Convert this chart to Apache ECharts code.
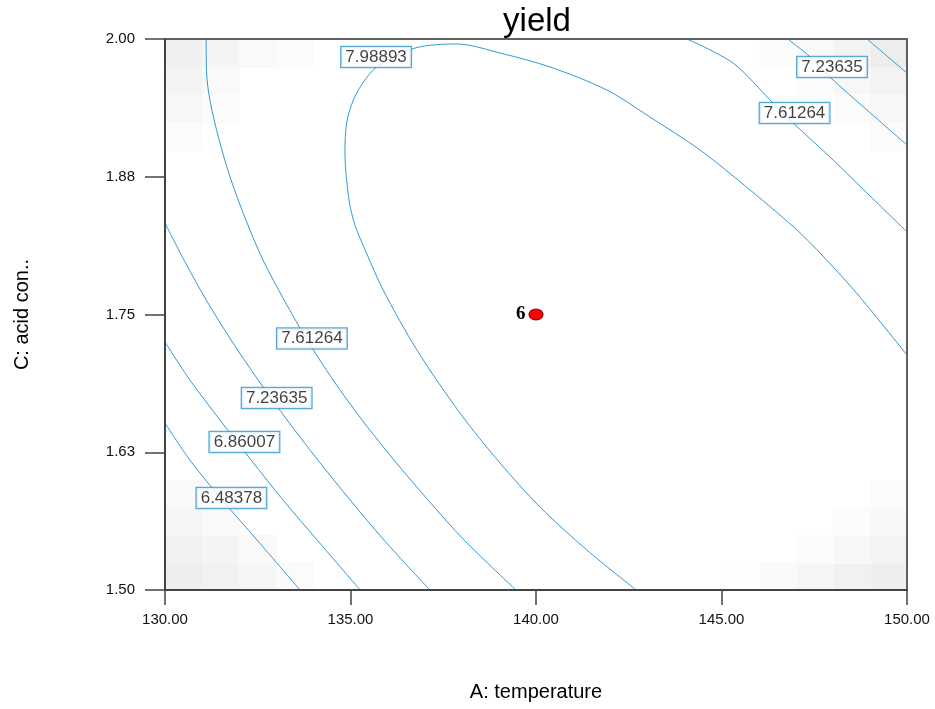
<!DOCTYPE html>
<html>
<head>
<meta charset="utf-8">
<script src="https://cdn.jsdelivr.net/npm/echarts@6/dist/echarts.min.js"></script>
<style>
html,body{margin:0;padding:0;background:#fff;}
#chart{width:935px;height:709px;}
</style>
</head>
<body>
<div id="chart"></div>
<script>
// ---- data (x: A temperature, y: C acid conc.) ----
var xTicks = [130, 135, 140, 145, 150];
var yTicks = [1.50, 1.625, 1.75, 1.875, 2.00];

// contour 6.48378 (lower left)
var c648L = [[130.00,1.6515],[130.67,1.6180],[131.54,1.5817],[132.48,1.5454],[133.64,1.5000]];
// contour 6.86007 (lower left)
var c686L = [[130.00,1.7250],[130.67,1.6906],[131.48,1.6543],[132.32,1.6180],[133.18,1.5817],[134.10,1.5454],[135.26,1.5000]];
// contour 7.23635 (left)
var c724L = [[130.00,1.8330],[130.51,1.7995],[131.11,1.7632],[131.78,1.7269],[132.51,1.6906],[133.29,1.6543],[134.12,1.6180],[134.99,1.5817],[135.90,1.5454],[137.14,1.5000]];
// contour 7.61264 (left)
var c761L = [[131.11,2.0000],[131.12,1.9701],[131.21,1.9446],[131.46,1.9083],[131.78,1.8721],[132.18,1.8358],[132.64,1.7995],[133.21,1.7632],[133.83,1.7269],[134.53,1.6906],[135.31,1.6543],[136.17,1.6180],[137.09,1.5817],[138.06,1.5454],[139.46,1.5000]];
// contour 7.98893 (inner arc)
var c799 = [[142.70,1.5000],[141.37,1.5363],[140.11,1.5753],[139.03,1.6152],[137.95,1.6606],[136.79,1.7178],[135.88,1.7722],[135.42,1.8067],[135.12,1.8312],[134.96,1.8539],[134.85,1.8966],[134.91,1.9265],[135.18,1.9519],[135.71,1.9746],[136.74,1.9918],[137.87,1.9955],[139.03,1.9873],[140.38,1.9746],[141.91,1.9537],[143.07,1.9292],[144.42,1.8993],[145.77,1.8630],[147.12,1.8240],[148.01,1.7931],[148.73,1.7659],[150.00,1.7132]];
// contour 7.61264 (upper right)
var c761R = [[144.07,2.0000],[145.31,1.9782],[146.36,1.9428],[146.93,1.9238],[148.01,1.8902],[148.92,1.8603],[150.00,1.8249]];
// contour 7.23635 (upper right)
var c724R = [[146.79,2.0000],[147.39,1.9837],[147.92,1.9655],[148.92,1.9356],[150.00,1.9038]];
// contour 6.86007 (upper right corner)
var c686R = [[148.92,2.0000],[150.00,1.9691]];

// contour labels [x, y, text]
var contourLabels = [
  [131.79,1.5835,'6.48378'],
  [132.14,1.6343,'6.86007'],
  [133.01,1.6742,'7.23635'],
  [133.96,1.7282,'7.61264'],
  [135.69,1.9837,'7.98893'],
  [146.97,1.9328,'7.61264'],
  [147.98,1.9746,'7.23635']
];

// design point
var designPoints = [[140.0,1.75,'6']];

// background shading cells [xLeft, yBottom, grey]
var shadeCells = [
  [130,1.500,'#eeeeee'],[131,1.500,'#f1f1f1'],[132,1.500,'#f6f6f6'],[133,1.500,'#fbfbfb'],
  [130,1.525,'#f1f1f1'],[131,1.525,'#f4f4f4'],[132,1.525,'#f9f9f9'],
  [130,1.550,'#f5f5f5'],[131,1.550,'#f9f9f9'],
  [130,1.575,'#fafafa'],[131,1.575,'#fdfdfd'],
  [130,1.975,'#f0f0f0'],[131,1.975,'#f4f4f4'],[132,1.975,'#f9f9f9'],[133,1.975,'#fcfcfc'],
  [130,1.950,'#f4f4f4'],[131,1.950,'#f9f9f9'],
  [130,1.925,'#f7f7f7'],[131,1.925,'#fcfcfc'],
  [130,1.900,'#fbfbfb'],
  [149,1.975,'#ededed'],[148,1.975,'#f3f3f3'],[147,1.975,'#f9f9f9'],[146,1.975,'#fcfcfc'],
  [149,1.950,'#f3f3f3'],[148,1.950,'#f7f7f7'],[147,1.950,'#fcfcfc'],
  [149,1.925,'#f7f7f7'],[148,1.925,'#fbfbfb'],
  [149,1.900,'#fbfbfb'],
  [149,1.500,'#eeeeee'],[148,1.500,'#f1f1f1'],[147,1.500,'#f6f6f6'],[146,1.500,'#fafafa'],[145,1.500,'#fdfdfd'],
  [149,1.525,'#f3f3f3'],[148,1.525,'#f7f7f7'],[147,1.525,'#fbfbfb'],
  [149,1.550,'#f8f8f8'],[148,1.550,'#fcfcfc'],
  [149,1.575,'#fcfcfc']
];
var cellW = 1, cellH = 0.025;

var lineColor = '#3399d0';
var baseFont = '"Liberation Sans", Arial, sans-serif';

function contour(data){
  return {
    type:'line', data:data, showSymbol:false, symbol:'none', smooth:0.3,
    lineStyle:{color:lineColor, width:1}, z:3, silent:true, animation:false
  };
}

var chart = echarts.init(document.getElementById('chart'), null, {renderer:'canvas'});
var option = {
  animation:false,
  backgroundColor:'#fff',
  title:{
    text:'yield', left:532, top:0, textAlign:'center',
    textStyle:{fontFamily:baseFont, fontSize:33, fontWeight:'normal', color:'#000'}
  },
  grid:{left:165, right:28, top:39, bottom:119, show:true, z:10, borderColor:'#606060', borderWidth:2, backgroundColor:'transparent'},
  xAxis:{
    type:'value', min:xTicks[0], max:xTicks[xTicks.length-1], interval:5, z:11,
    name:'A: temperature', nameLocation:'middle', nameGap:92,
    nameTextStyle:{fontFamily:baseFont, fontSize:20, color:'#000'},
    axisLine:{show:true, onZero:false, lineStyle:{color:'#444', width:2}},
    axisTick:{show:true, length:15, lineStyle:{color:'#444', width:1.5}},
    axisLabel:{margin:22, fontFamily:baseFont, fontSize:15, color:'#111', formatter:function(v){return v.toFixed(2);}},
    splitLine:{show:false}
  },
  yAxis:{
    type:'value', min:yTicks[0], max:yTicks[yTicks.length-1], interval:0.125, z:11,
    name:'C: acid con..', nameLocation:'middle', nameGap:133,
    nameTextStyle:{fontFamily:baseFont, fontSize:20, color:'#000'},
    axisLine:{show:true, onZero:false, lineStyle:{color:'#444', width:2}},
    axisTick:{show:true, length:20, lineStyle:{color:'#444', width:1.5}},
    axisLabel:{margin:30, fontFamily:baseFont, fontSize:15, color:'#111', formatter:function(v){return v.toFixed(2);}},
    splitLine:{show:false}
  },
  series:[
    {
      type:'custom', data:shadeCells, z:1, silent:true, clip:true,
      renderItem:function(params, api){
        var x0 = api.value(0), y0 = api.value(1);
        var p = api.coord([x0, y0 + cellH]);
        var s = api.size([cellW, cellH]);
        return {type:'rect', shape:{x:Math.round(p[0]), y:Math.round(p[1]), width:Math.round(s[0])+1, height:Math.round(s[1])+1},
                style:{fill:shadeCells[params.dataIndex][2]}};
      }
    },
    contour(c648L), contour(c686L), contour(c724L), contour(c761L),
    contour(c799), contour(c761R), contour(c724R), contour(c686R),
    {
      type:'scatter', data:contourLabels, symbolSize:0, itemStyle:{color:'rgba(0,0,0,0)'}, z:6, silent:true,
      label:{
        show:true, position:'inside', formatter:function(p){return p.data[2];},
        fontFamily:baseFont, fontSize:17, color:'#111', backgroundColor:'#fff',
        borderColor:'#2f95cf', borderWidth:1.3, padding:[1,4,0,4], lineHeight:19
      }
    },
    {
      type:'scatter', data:designPoints, symbol:'circle', symbolSize:[14,11], z:7,
      itemStyle:{color:'#ff0000', borderColor:'#8a0000', borderWidth:1, opacity:1},
      label:{show:true, position:'left', distance:3, formatter:function(p){return p.data[2];},
        fontFamily:'"Liberation Serif", "DejaVu Serif", serif', fontWeight:'bold', fontSize:19, color:'#000'}
    }
  ]
};
chart.setOption(option);
</script>
</body>
</html>
